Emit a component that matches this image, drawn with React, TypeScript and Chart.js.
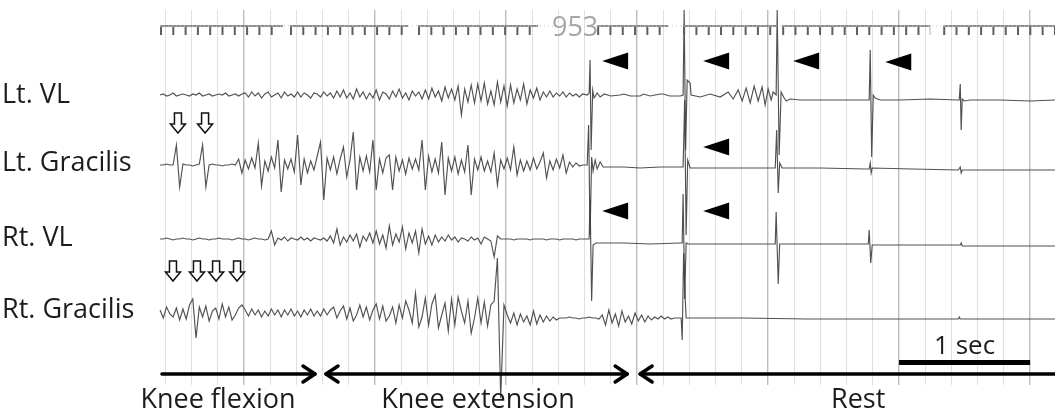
import React, { useEffect, useRef } from "react";
import { Chart, registerables } from "chart.js";
Chart.register(...registerables);

// ---- axis ranges (seconds, arbitrary vertical units) ----
const X_MIN = 0.36;
const X_MAX = 7.19;
const Y_MIN = 0;
const Y_MAX = 375;

// ---- channels ----
const channelNames = ["Lt. VL", "Lt. Gracilis", "Rt. VL", "Rt. Gracilis"];
const channelOffsets = [290, 220, 146, 72];
const labelLevels = [290, 222, 147, 75];

// uniformly sampled EMG (start time, step in seconds)
const T0 = 0.36;
const DT = 0.025;

const ltVlBurst = [
  0, 1, -1, 0, 2, -1, 0, 1, 0, -1, 1, 0, 2, -1, 0, 1, -1, 0, 1, 0, 2, -1, 0, 1, -1, 1,
  2, -2, 3, -1, 2, -3, 1, 3, -2, 0, 2, -3, 3, -1, 1, -2, 3, -2, 2, 0, -3, 2, 1, -2, 3, -1, 2,
  -3, 4, -2, 5, -3, 2, -4, 6, -2, 3, -4, 2, -3, 5, -5, 3, 1, -4, 4, -2, 6, -3, 2, -5, 4, -1, 3, -4,
  5, -4, 7, -2, 4, -6, 8, -3, 6, -5, 9, -20, 6, -7, 10,
  -8, 11, -6, 12, -9, 4, -10, 13, -7, 9, -11, 10, -8, 6, -5, 11, -9, 5, -3, 7, -5,
  3, -2, 4, -2, 2, -1, 3, -2, 2, -1, 1, -2, 1,
];
const ltGrBurst = [
  0, 0, 1, 0, 0, 20, -22, 1, 0, 0, -1, 0, 1, 20, -22, 0, 1, 0, 0, -1, 0, 0, 1, 0,
  6, -8, 5, -4, 7, -3, 22, -21, 4, -6, 8, -3, 25, -27, 5, -4, 6, -7, 30, -20, 6, -8, 4, -5, 9,
  23, -35, 7, -5, 8, -9, 6, 18, -12, 5, 33, -25, 8, -6, 9, -7, 25, -25, 6, -8, 7, 10, -25,
  8, -6, 5, -9, 7, -4, 6, -5, 25, -25, 9, -7, 6, -8, 23, -30, 7, -6, 8, -9, 5, -7, 20, -30,
  6, -5, 8, -6, 4, -7, 12, -20, 5, -4, 7, -5, 18, -10, 5, -6, 4, -5, 7, -4, 3, 12, -13,
  4, -5, 6, -3, 10, -8, 3, -2, 2, -1, 0,
];
const rtVlBurst = [
  0, 0, 1, 0, -1, 0, 0, 1, 0, 0, -1, 0, 1, 0, 0, -1, 0, 0, 1, 0, 0, 0, -1, 0, 1, 0, 0, -1, 0, 1, 0, 0, -1, 0,
  8, -6,
  1, -1, 2, -2, 1, 0, -1, 2, -1, 1, -2, 1, 0, -1, 1,
  -2, 3, -4, 10, -6, 2, -3, 4, -2, 5, -8, 3, -2, 6, -4, 8, -5, 4, -9, 13, -6, 5, -3, 12, -10, 6, -4, 8, -14, 10, -5, 3, -6, 4,
  -3, 2, -2, 4, -1, 2, -3, 1, 0, -2, 2, -1, 1, -5, 2,
  0, -2, -18, 3, 0,
  0, 0, 0, -1, 0, 0, 0, 0, -1, 0, 0, 0, 0, -1, 0, 0, 0, -1, 0, 0, 0, 0, -1, 0, 0,
];
const rtGrBurst = [
  3, -5, 6, -1, -4, 5, -7, 4, -6, 8, 14, -25, 6, -4, 7, -8, 2, 5, -6, 9, -4, 6, -7, -2, 5, 8,
  3, -3, 4, -2, 3, -4, 2, -3, 4, -2, 3, -4, 3, -2, 4, -3, 2, -4, 3, -2, 4, -3, 2, -3, 4, -2, 3,
  6, -5, 2, 7, -6, 5, -8, -2, 8, -4, 6, -7, 3, 9, -6, 7, -8, -3, 6, -10, 8, -5,
  12, 3, -10, 20, -14, -4, 15, -12, 9, 18, -15, -2, 10, -18, 14, -12, 16, 2, -10, 12, -20, -5, 15, -10, 11, -13, 8,
  12, 55, -85, 8,
  -2, -10, 0, -12, -1, -9, -3, -12, 2, -11, -2, -9, -3, -8, -4, -7, -5,
  -5, -5, -4, -5, -5, -6, -5, -5, -4, -5, -5, -6,
  -2, -12, 3, -10, -1, -13, 2, -9, -3, -11, 0, -8, -2, -9, -3, -7, -4, -6,
  -3, -6, -4, -6, -5, -5,
];

// sparse [time, value] after the first stimulation artefact
const ltVlTail = [
  [3.62, 0], [3.635, 2], [3.642, 35], [3.65, -55], [3.662, 5], [3.673, -3], [3.696, 2], [3.719, -2],
  [3.75, 1], [3.8, -1], [3.871, 0], [3.9, 1], [3.95, -1], [4.024, -1], [4.05, 1], [4.1, -1], [4.177, 1],
  [4.2, 1], [4.25, -1], [4.329, -1], [4.352, 0], [4.36, 85], [4.371, -55], [4.383, 15], [4.406, 12],
  [4.413, 0], [4.482, -2], [4.558, 1], [4.635, -2], [4.696, 3], [4.734, -4], [4.772, 5], [4.803, -6],
  [4.833, 7], [4.864, -8], [4.894, 9], [4.925, -6], [4.955, 8], [4.978, -10], [5.001, 6], [5.024, -5],
  [5.039, 3], [5.062, 0], [5.07, 85], [5.085, -60], [5.1, 3], [5.123, -3], [5.139, -6], [5.169, -4],
  [5.246, -5], [5.474, -5], [5.749, -5], [5.772, -5], [5.78, 45], [5.791, -62], [5.803, 0], [5.818, -3],
  [5.856, -5], [6.009, -5], [6.238, -4], [6.444, -5], [6.459, -5], [6.467, 11], [6.474, -35], [6.482, -4],
  [6.497, -6], [6.543, -5], [6.772, -5], [7.001, -6], [7.192, -5],
];
const ltGrTail = [
  [3.62, 0], [3.631, 40], [3.642, -70], [3.654, 8], [3.665, -6], [3.681, 5], [3.696, -4], [3.719, 3],
  [3.742, -2], [3.765, -2], [3.9, -2], [4.024, -3], [4.177, -2], [4.329, -2], [4.352, -2], [4.364, 65],
  [4.375, -70], [4.387, 5], [4.406, -3], [4.482, -3], [4.7, -3], [5.039, -3], [5.055, -3], [5.066, 35],
  [5.078, -28], [5.089, 2], [5.108, -3], [5.4, -3], [5.749, -4], [5.772, -4], [5.78, 2], [5.787, -8],
  [5.795, -3], [6.1, -4], [6.452, -5], [6.467, -2], [6.474, -8], [6.482, -5], [7.192, -5],
];
const rtVlTail = [
  [3.62, 0], [3.635, 0], [3.642, 40], [3.654, -62], [3.665, -6], [3.688, -4], [3.9, -4], [4.1, -5],
  [4.329, -4], [4.345, -4], [4.352, 45], [4.364, -60], [4.375, -4], [4.391, -5], [4.7, -5], [5.039, -5],
  [5.055, -5], [5.062, 27], [5.078, -45], [5.089, -5], [5.4, -5], [5.749, -5], [5.765, -5], [5.772, 9],
  [5.784, -24], [5.795, -6], [6.2, -6], [6.467, -6], [6.474, -4], [6.482, -7], [7.192, -7],
];
const rtGrTail = [
  [4.337, -5], [4.345, -27], [4.356, 60], [4.368, 15], [4.375, -5], [4.391, -5], [4.8, -5], [5.3, -6],
  [6.0, -6], [6.452, -6], [6.46, -4], [6.467, -6], [7.192, -6],
];

// timing-marker comb at the top
const combStarts = [0.36, 1.352, 2.329, 3.696, 4.352, 5.108, 6.337];
const combEnds = [1.299, 2.253, 3.245, 4.238, 5.07, 6.238, 7.192];
const combLineLevel = 359;
const combTeethLevel = 354;
const counterText = "953";
const counterT = 3.528;
const counterLevel = 357;

// annotations
const triangleT = [3.833, 4.604, 5.291, 5.994, 4.604, 3.833, 4.604];
const triangleV = [324, 324, 324, 323, 238, 174, 174];
const downArrowT = [0.497, 0.704, 0.459, 0.642, 0.788, 0.948];
const downArrowV = [262, 262, 114, 114, 114, 114];

const phaseNames = ["Knee flexion", "Knee extension", "Rest"];
const phaseStart = [0.375, 1.627, 4.024];
const phaseEnd = [1.543, 3.925, 7.192];
const phaseHeadLeft = [false, true, true];
const phaseHeadRight = [true, true, false];
const phaseLabelT = [0.803, 2.787, 5.688];
const phaseLevel = 11;
const phaseLabelLevel = -15;

const scaleBarStart = 6.0;
const scaleBarLength = 1.0;
const scaleBarLevel = 22.5;
const scaleBarLabel = "1 sec";
const scaleBarLabelLevel = 38;

const TRACE = "rgba(62,62,62,0.9)";
const FONT = '"Open Sans", "DejaVu Sans", sans-serif';

function burstPoints(arr: number[], offset: number) {
  return arr.map((v, i) => ({ x: T0 + i * DT, y: offset + v }));
}
function tailPoints(arr: number[][], offset: number) {
  return arr.map(([t, v]) => ({ x: t, y: offset + v }));
}
function combPoints(level: number) {
  const pts: { x: number; y: number | null }[] = [];
  combStarts.forEach((s, i) => {
    pts.push({ x: s, y: level }, { x: combEnds[i], y: level }, { x: combEnds[i] + 0.001, y: null });
  });
  return pts;
}

const bursts = [ltVlBurst, ltGrBurst, rtVlBurst, rtGrBurst];
const tails = [ltVlTail, ltGrTail, rtVlTail, rtGrTail];

const overlay = {
  id: "overlay",
  afterDatasetsDraw(chart: any) {
    const { ctx, scales } = chart;
    const xs = scales.x;
    const ys = scales.y;
    const px = (t: number) => xs.getPixelForValue(t);
    const py = (v: number) => ys.getPixelForValue(v);
    ctx.save();

    // counter text
    ctx.font = `27px ${FONT}`;
    ctx.fillStyle = "#a6a6a6";
    ctx.textAlign = "center";
    ctx.textBaseline = "middle";
    ctx.fillText(counterText, px(counterT), py(counterLevel));

    // channel labels
    ctx.font = `27px ${FONT}`;
    ctx.fillStyle = "#1c1c1c";
    ctx.textAlign = "left";
    channelNames.forEach((n, i) => ctx.fillText(n, 2, py(labelLevels[i])));

    // black triangles
    ctx.fillStyle = "#000";
    triangleT.forEach((t, i) => {
      const cx = px(t), cy = py(triangleV[i]);
      ctx.beginPath();
      ctx.moveTo(cx - 13, cy);
      ctx.lineTo(cx + 13, cy - 8.5);
      ctx.lineTo(cx + 13, cy + 8.5);
      ctx.closePath();
      ctx.fill();
    });

    // hollow down arrows
    ctx.strokeStyle = "#111";
    ctx.lineWidth = 1.5;
    ctx.fillStyle = "#fff";
    downArrowT.forEach((t, i) => {
      const cx = px(t), cy = py(downArrowV[i]);
      ctx.beginPath();
      ctx.moveTo(cx - 3.5, cy - 10);
      ctx.lineTo(cx + 3.5, cy - 10);
      ctx.lineTo(cx + 3.5, cy + 1);
      ctx.lineTo(cx + 7.5, cy + 1);
      ctx.lineTo(cx, cy + 10);
      ctx.lineTo(cx - 7.5, cy + 1);
      ctx.lineTo(cx - 3.5, cy + 1);
      ctx.closePath();
      ctx.fill();
      ctx.stroke();
    });

    // phase arrows
    ctx.strokeStyle = "#000";
    ctx.lineWidth = 3.5;
    ctx.lineCap = "round";
    ctx.lineJoin = "round";
    phaseStart.forEach((s, i) => {
      const x1 = px(s), x2 = Math.min(px(phaseEnd[i]), chart.width + 5), y = py(phaseLevel);
      ctx.beginPath();
      ctx.moveTo(x1, y);
      ctx.lineTo(x2, y);
      ctx.stroke();
      if (phaseHeadRight[i]) {
        ctx.beginPath();
        ctx.moveTo(x2 - 12, y - 8);
        ctx.lineTo(x2, y);
        ctx.lineTo(x2 - 12, y + 8);
        ctx.stroke();
      }
      if (phaseHeadLeft[i]) {
        ctx.beginPath();
        ctx.moveTo(x1 + 12, y - 8);
        ctx.lineTo(x1, y);
        ctx.lineTo(x1 + 12, y + 8);
        ctx.stroke();
      }
    });

    // phase labels
    ctx.font = `27px ${FONT}`;
    ctx.fillStyle = "#1c1c1c";
    ctx.textAlign = "center";
    phaseNames.forEach((n, i) => ctx.fillText(n, px(phaseLabelT[i]), py(phaseLabelLevel)));

    // scale bar
    ctx.lineCap = "butt";
    ctx.lineWidth = 5;
    ctx.beginPath();
    ctx.moveTo(px(scaleBarStart), py(scaleBarLevel));
    ctx.lineTo(px(scaleBarStart + scaleBarLength), py(scaleBarLevel));
    ctx.stroke();
    ctx.font = `26px ${FONT}`;
    ctx.fillText(scaleBarLabel, px(scaleBarStart + scaleBarLength / 2), py(scaleBarLabelLevel));

    ctx.restore();
  },
};

export default function App() {
  const ref = useRef<HTMLCanvasElement>(null);
  useEffect(() => {
    const traceSets = bursts.map((b, i) => ({
      data: [...burstPoints(b, channelOffsets[i]), ...tailPoints(tails[i], channelOffsets[i])],
      borderColor: TRACE,
      borderWidth: 1.15,
      pointRadius: 0,
      tension: 0,
      clip: false as any,
    }));
    const chart = new Chart(ref.current as HTMLCanvasElement, {
      type: "line",
      data: {
        datasets: [
          {
            data: [{ x: X_MIN, y: combLineLevel }, { x: X_MAX, y: combLineLevel }],
            borderColor: "#c4c4c4",
            borderWidth: 1,
            borderDash: [1, 3],
            pointRadius: 0,
          },
          {
            data: combPoints(combLineLevel) as any,
            borderColor: "#6a6a6a",
            borderWidth: 1.3,
            pointRadius: 0,
            spanGaps: false,
          },
          {
            data: combPoints(combTeethLevel) as any,
            borderColor: "#5e5e5e",
            borderWidth: 8,
            borderDash: [2, 10.3],
            borderCapStyle: "butt",
            pointRadius: 0,
            spanGaps: false,
          },
          ...traceSets,
        ] as any,
      },
      options: {
        animation: false,
        responsive: false,
        devicePixelRatio: 1,
        layout: { padding: { left: 160, right: 0, top: 10, bottom: 29 } },
        plugins: { legend: { display: false }, tooltip: { enabled: false } },
        scales: {
          x: {
            type: "linear",
            min: X_MIN,
            max: X_MAX,
            border: { display: false },
            ticks: { display: false },
            grid: {
              drawTicks: false,
              color: (c: any) =>
                c.tick && Math.abs(c.tick.value - Math.round(c.tick.value)) < 1e-6 ? "#bcbcbc" : "#e0e0e0",
              lineWidth: (c: any) =>
                c.tick && Math.abs(c.tick.value - Math.round(c.tick.value)) < 1e-6 ? 1.4 : 1,
            },
            afterBuildTicks: (s: any) => {
              const ticks = [];
              for (let k = 2; k <= 35; k++) ticks.push({ value: k / 5 });
              s.ticks = ticks;
            },
          },
          y: {
            display: false,
            min: Y_MIN,
            max: Y_MAX,
          },
        },
      },
      plugins: [overlay],
    });
    return () => chart.destroy();
  }, []);
  return (
    <div style={{ position: "absolute", left: 0, top: 0, width: 1055, height: 414, background: "#fff" }}>
      <canvas ref={ref} width={1055} height={414} style={{ display: "block" }} />
    </div>
  );
}
